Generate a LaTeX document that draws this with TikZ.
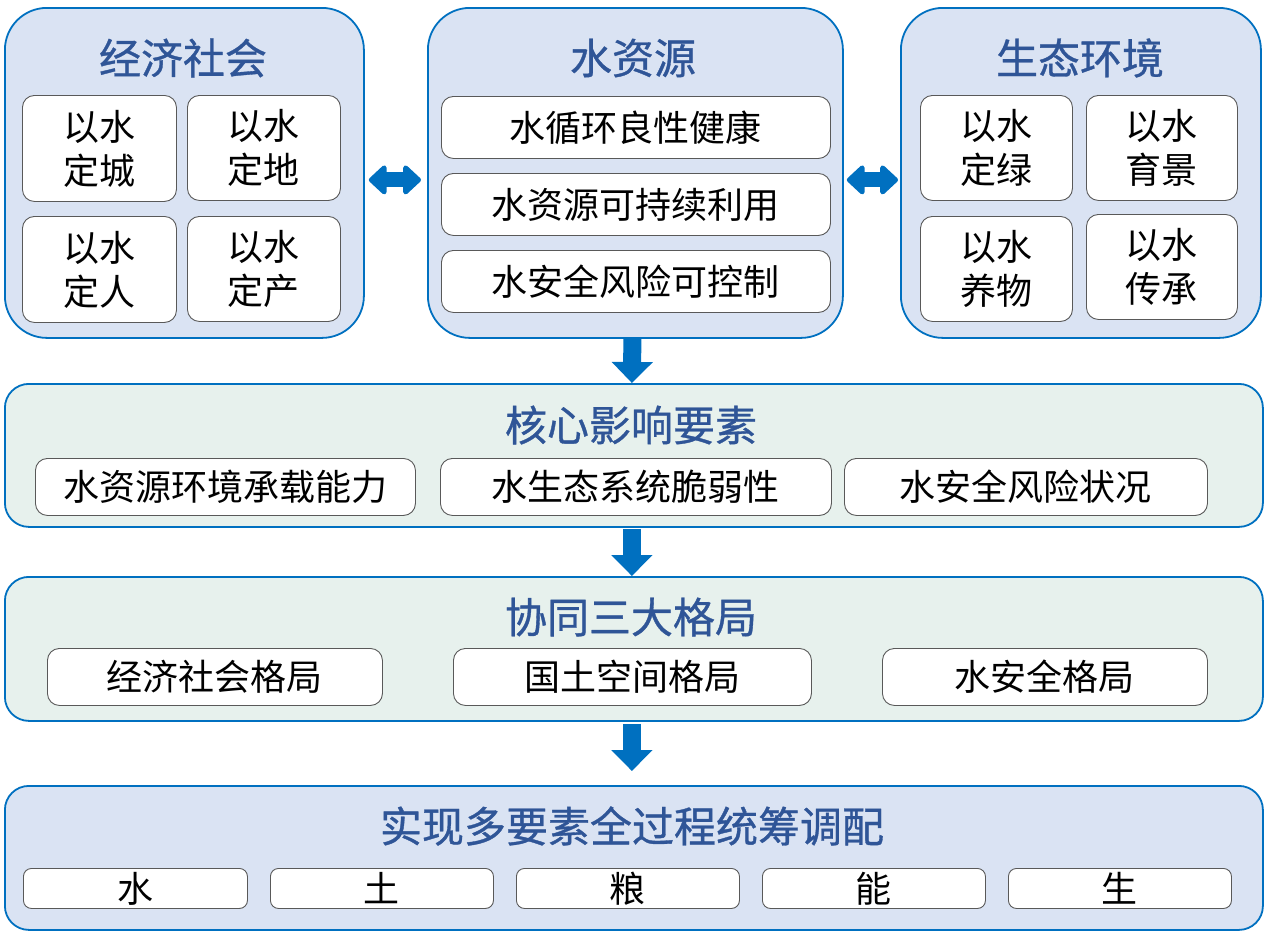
\documentclass[tikz,border=0pt]{standalone}
\usepackage{fontspec}
\newfontfamily\cjk{Noto Sans CJK SC}
\newfontfamily\cjkt[FakeBold=0.8]{Noto Sans CJK SC}
\usetikzlibrary{arrows.meta}
\definecolor{bord}{RGB}{0,112,192}
\definecolor{ttl}{RGB}{47,85,151}
\definecolor{pblue}{RGB}{218,227,243}
\definecolor{pgreen}{RGB}{231,241,237}
\definecolor{ibord}{RGB}{89,89,89}
\definecolor{arr}{RGB}{0,112,192}
\tikzset{
  panel/.style={draw=bord, fill=pblue, line width=1.8pt, rounded corners=42pt},
  band/.style={draw=bord, line width=1.8pt, rounded corners=24pt},
  inbox/.style={draw=ibord, fill=white, line width=0.9pt, rounded corners=12pt,
     font=\cjk\fontsize{36}{44}\selectfont, align=center, text=black},
  ttltext/.style={text=ttl, font=\cjkt\fontsize{42}{50}\selectfont, inner sep=0pt},
  dblarrow/.style={draw=arr, line width=15pt,
     {Triangle[width=34pt,length=19pt,round]}-{Triangle[width=34pt,length=19pt,round]}},
  downarrow/.style={draw=arr, line width=18pt, -{Triangle[width=40pt,length=21pt]}}
}
\newcommand\mkbox[7]{\node[#6, anchor=north west, inner sep=0pt,
  minimum width={#4pt-#2pt}, minimum height={#5pt-#3pt}] (#1) at (#2,#3) {#7};}
\begin{document}
\begin{tikzpicture}[x=1pt,y=-1pt]
\useasboundingbox (0,0) rectangle (1265,935);
% top panels
\mkbox{p1}{4}{7}{363}{337}{panel}{}
\mkbox{p2}{427}{7}{842}{337}{panel}{}
\mkbox{p3}{900}{7}{1260}{337}{panel}{}
\node[ttltext] (t1) at (183,58) {经济社会};
\node[ttltext] (t2) at (633,58) {水资源};
\node[ttltext] (t3) at (1080,58) {生态环境};
\mkbox{e1}{22}{95}{176}{201}{inbox}{以水\\定城}
\mkbox{e2}{187}{95}{340}{200}{inbox}{以水\\定地}
\mkbox{e3}{22}{216}{176}{322}{inbox}{以水\\定人}
\mkbox{e4}{187}{216}{340}{321}{inbox}{以水\\定产}
\mkbox{w1}{441}{96}{830}{158}{inbox}{水循环良性健康}
\mkbox{w2}{441}{173}{830}{235}{inbox}{水资源可持续利用}
\mkbox{w3}{441}{250}{830}{312}{inbox}{水安全风险可控制}
\mkbox{s1}{920}{95}{1072}{200}{inbox}{以水\\定绿}
\mkbox{s2}{1086}{95}{1237}{200}{inbox}{以水\\育景}
\mkbox{s3}{920}{216}{1072}{321}{inbox}{以水\\养物}
\mkbox{s4}{1086}{214}{1237}{319}{inbox}{以水\\传承}
% bands
\mkbox{b2}{4}{383}{1262}{526}{band, fill=pgreen}{}
\node[ttltext] (t4) at (631,425) {核心影响要素};
\mkbox{k1}{35}{458}{415}{515}{inbox}{水资源环境承载能力}
\mkbox{k2}{440}{458}{831}{515}{inbox}{水生态系统脆弱性}
\mkbox{k3}{844}{458}{1207}{515}{inbox}{水安全风险状况}
\mkbox{b3}{4}{576}{1262}{720}{band, fill=pgreen}{}
\node[ttltext] (t5) at (631,617) {协同三大格局};
\mkbox{g1}{47}{648}{382}{705}{inbox}{经济社会格局}
\mkbox{g2}{453}{648}{811}{705}{inbox}{国土空间格局}
\mkbox{g3}{882}{648}{1207}{705}{inbox}{水安全格局}
\mkbox{b4}{4}{785}{1262}{929}{band, fill=pblue}{}
\node[ttltext] (t6) at (632,826) {实现多要素全过程统筹调配};
\mkbox{r1}{23}{868}{247}{908}{inbox, rounded corners=8pt}{水}
\mkbox{r2}{270}{868}{493}{908}{inbox, rounded corners=8pt}{土}
\mkbox{r3}{516}{868}{739}{908}{inbox, rounded corners=8pt}{粮}
\mkbox{r4}{762}{868}{985}{908}{inbox, rounded corners=8pt}{能}
\mkbox{r5}{1008}{868}{1231}{908}{inbox, rounded corners=8pt}{生}
% arrows
\draw[dblarrow, shorten <=4pt, shorten >=6pt] ([yshift=-7pt]p1.east) -- ([yshift=-7pt]p2.west);
\draw[dblarrow, shorten <=3pt, shorten >=2pt] ([yshift=-7pt]p2.east) -- ([yshift=-7pt]p3.west);
\draw[downarrow] ([xshift=-3pt]p2.south) -- ([xshift=-2pt]b2.north);
\draw[downarrow, shorten <=1pt] ([xshift=-2pt]b2.south) -- ([xshift=-2pt]b3.north);
\draw[downarrow, shorten <=2pt, shorten >=14pt] ([xshift=-2pt]b3.south) -- ([xshift=-2pt]b4.north);
\end{tikzpicture}
\end{document}
